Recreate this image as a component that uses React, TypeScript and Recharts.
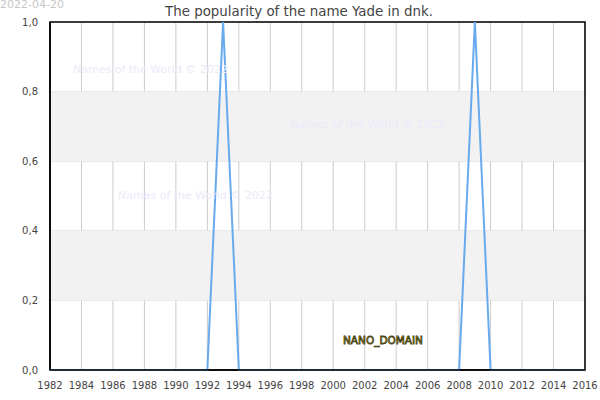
import React from "react";
import {
  LineChart,
  Line,
  XAxis,
  YAxis,
  CartesianGrid,
  ReferenceArea,
} from "recharts";

const years: number[] = [
  1982, 1983, 1984, 1985, 1986, 1987, 1988, 1989, 1990, 1991, 1992, 1993,
  1994, 1995, 1996, 1997, 1998, 1999, 2000, 2001, 2002, 2003, 2004, 2005,
  2006, 2007, 2008, 2009, 2010, 2011, 2012, 2013, 2014, 2015, 2016,
];
const popularity: number[] = [
  0, 0, 0, 0, 0, 0, 0, 0, 0, 0, 0, 1, 0, 0, 0, 0, 0, 0, 0, 0, 0, 0, 0, 0, 0,
  0, 0, 1, 0, 0, 0, 0, 0, 0, 0,
];
const xTicks: number[] = [
  1982, 1984, 1986, 1988, 1990, 1992, 1994, 1996, 1998, 2000, 2002, 2004,
  2006, 2008, 2010, 2012, 2014, 2016,
];
const yTicks: number[] = [0, 0.2, 0.4, 0.6, 0.8, 1.0];
const bands: [number, number][] = [
  [0.2, 0.4],
  [0.6, 0.8],
];
const watermarks: { x: number; y: number }[] = [
  { x: 73, y: 69 },
  { x: 290, y: 124 },
  { x: 118, y: 195 },
];

const data = years.map((year, i) => ({ year, value: popularity[i] }));

const font = "DejaVu Sans, sans-serif";

export default function App() {
  return (
    <div
      style={{
        position: "absolute",
        left: 0,
        top: 0,
        width: 600,
        height: 400,
        fontFamily: font,
        background: "#fff",
      }}
    >
      <LineChart
        width={600}
        height={400}
        data={data}
        margin={{ top: 22, right: 15, bottom: 0, left: 0 }}
      >
        {bands.map(([a, b], i) => (
          <ReferenceArea
            key={i}
            y1={a}
            y2={b}
            x1={1982}
            x2={2016}
            fill="#f2f2f2"
            fillOpacity={1}
            stroke="none"
            ifOverflow="hidden"
          />
        ))}
        <CartesianGrid horizontal={false} stroke="#cccccc" strokeWidth={1} />
        <CartesianGrid vertical={false} stroke="#dddddd" strokeWidth={1} />
        <XAxis
          dataKey="year"
          type="number"
          domain={[1982, 2016]}
          ticks={xTicks}
          interval={0}
          tickLine={false}
          axisLine={{ stroke: "#000", strokeWidth: 1.5 }}
          height={30}
          tickMargin={6}
          tick={{ fontSize: 10, fill: "#444", fontFamily: font }}
        />
        <YAxis
          type="number"
          domain={[0, 1]}
          ticks={yTicks}
          interval={0}
          tickLine={false}
          axisLine={{ stroke: "#000", strokeWidth: 1.5 }}
          width={50}
          tickMargin={6}
          tickFormatter={(v: number) => v.toFixed(1).replace(".", ",")}
          tick={{ fontSize: 10, fill: "#444", fontFamily: font }}
        />
        <ReferenceArea
          x1={1982}
          x2={2016}
          y1={0}
          y2={1}
          fill="none"
          fillOpacity={0}
          stroke="#000"
          strokeWidth={1.5}
        />
        <Line
          type="linear"
          dataKey="value"
          stroke="#68aaee"
          strokeWidth={2}
          dot={false}
          activeDot={false}
          isAnimationActive={false}
        />
      </LineChart>
      <svg
        width={600}
        height={400}
        style={{ position: "absolute", left: 0, top: 0, pointerEvents: "none" }}
      >
        <text x={0} y={8} fontSize={11} fill="#c8c8c8" fontFamily={font}>
          2022-04-20
        </text>
        <text
          x={299}
          y={15.5}
          fontSize={13.4}
          fill="#444"
          textAnchor="middle"
          fontFamily={font}
        >
          The popularity of the name Yade in dnk.
        </text>
        {watermarks.map((w, i) => (
          <text
            key={i}
            x={w.x}
            y={w.y + 4}
            fontSize={11}
            fill="#eaeafa"
            fontFamily={font}
          >
            Names of the World © 2022
          </text>
        ))}
        <text
          x={383}
          y={344}
          fontSize={10.5}
          textAnchor="middle"
          fill="#e0d270"
          stroke="#4a4412"
          strokeWidth={0.8}
          fontFamily={font}
        >
          NANO_DOMAIN
        </text>
      </svg>
    </div>
  );
}
